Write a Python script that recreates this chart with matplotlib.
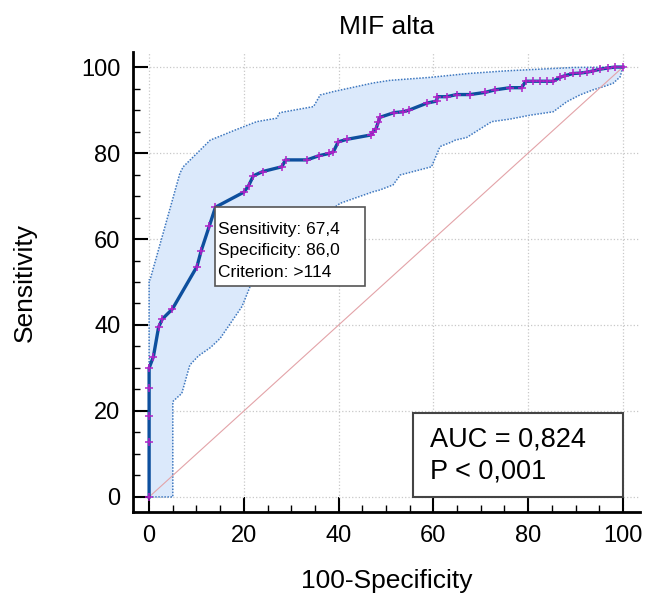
import numpy as np
import matplotlib.pyplot as plt
from matplotlib.patches import Rectangle
from matplotlib.ticker import MultipleLocator

plt.rcParams['font.family'] = ['Liberation Sans', 'DejaVu Sans']

# ROC curve (100-Specificity, Sensitivity)
roc_x = [0, 0, 0, 0, 0, 0.9, 2.0, 2.8, 4.9, 10.1, 11.0, 12.7, 14.0,
         20.0, 21.0, 22.0, 24.0, 28.0, 28.8, 33.3, 35.9, 38.0, 38.9, 39.9,
         41.8, 46.8, 47.3, 47.9, 48.4, 48.7, 51.7, 53.6, 54.9, 58.6, 60.7,
         60.8, 62.8, 64.9, 67.7, 70.9, 73.0, 76.2, 78.6, 79.5, 81.0, 82.6,
         84.0, 85.3, 86.7, 87.8, 89.5, 91.0, 92.4, 93.7, 95.2, 96.9, 98.3, 100]
roc_y = [0, 12.8, 18.8, 25.3, 30.0, 32.6, 39.5, 41.4, 43.7, 53.6, 57.3, 63.0, 67.4,
         70.9, 72.4, 74.7, 75.7, 76.8, 78.4, 78.4, 79.4, 79.9, 80.3, 82.6,
         83.2, 84.2, 85.0, 85.7, 87.3, 88.3, 89.4, 89.6, 90.0, 91.6, 92.1,
         93.1, 93.1, 93.6, 93.6, 94.1, 94.7, 95.2, 95.2, 96.7, 96.7, 96.7,
         96.7, 96.7, 97.6, 98.0, 98.5, 98.6, 98.8, 99.1, 99.5, 99.8, 100, 100]

# 95% confidence bounds
upper_x = [0, 0, 0.2, 6.5, 7.2, 12.9, 18.5, 22.7, 26.9, 27.6, 34.7, 36.1, 38.9,
           47.3, 50.8, 59.3, 67.4, 75.1, 89.5, 100]
upper_y = [0, 50.5, 50.5, 75.3, 76.8, 83.0, 85.5, 87.3, 88.1, 89.4, 90.8, 93.5, 94.3,
           96.3, 96.9, 97.6, 98.5, 99.1, 99.9, 100]
lower_x = [0, 5.0, 5.0, 6.9, 8.6, 10.4, 13.0, 15.0, 19.6, 21.3, 30.0, 35.0, 40.3,
           47.3, 48.7, 51.5, 53.0, 59.6, 61.4, 63.9, 64.6, 67.0, 72.3, 76.2,
           80.4, 85.3, 88.1, 90.9, 93.7, 95.8, 97.9, 99.4, 100]
lower_y = [0, 0, 22.2, 24.1, 30.7, 32.8, 34.8, 36.9, 44.3, 48.9, 58.0, 64.0, 68.3,
           71.0, 71.4, 72.6, 74.9, 76.8, 81.5, 82.6, 83.0, 83.6, 87.3, 87.9,
           88.8, 89.6, 91.9, 93.5, 94.7, 95.4, 96.2, 97.7, 100]

cut_x, cut_y = 14.0, 67.4
criterion_lines = ["Sensitivity: 67,4", "Specificity: 86,0", "Criterion: >114"]
stats_lines = ["AUC = 0,824", "P < 0,001"]

fig = plt.figure(figsize=(6.45, 5.94), dpi=100)
ax = fig.add_axes([133/645, 82/594, 507/645, 460/594])

poly_x = upper_x + lower_x[::-1]
poly_y = upper_y + lower_y[::-1]
ax.fill(poly_x, poly_y, color='#dbe9fb', zorder=1, lw=0)
ax.plot(upper_x, upper_y, color='#3f78bf', lw=1.1, ls=(0, (1, 1)), zorder=2)
ax.plot(lower_x, lower_y, color='#3f78bf', lw=1.1, ls=(0, (1, 1)), zorder=2)
ax.plot([0, 100], [0, 100], color='#e3a3a8', lw=0.8, zorder=2)
ax.plot(roc_x, roc_y, color='#0d4f9e', lw=2.4, zorder=3)
ax.plot(roc_x, roc_y, ls='none', marker='+', ms=6, mew=1.1,
        color='#b020c8', zorder=4)

ax.set_xlim(-3.4, 103.6)
ax.set_ylim(-3.5, 103.5)
ax.xaxis.set_major_locator(MultipleLocator(20))
ax.yaxis.set_major_locator(MultipleLocator(20))
ax.xaxis.set_minor_locator(MultipleLocator(5))
ax.yaxis.set_minor_locator(MultipleLocator(5))
ax.tick_params(which='major', direction='in', length=11, width=1.5,
               labelsize=17, pad=9)
ax.tick_params(which='minor', direction='in', length=5, width=1)
ax.grid(True, which='major', color='#c8c8c8', ls=':', lw=0.9, zorder=0)
ax.set_axisbelow(True)
for s in ['top', 'right']:
    ax.spines[s].set_visible(False)
for s in ['left', 'bottom']:
    ax.spines[s].set_linewidth(2)

ax.set_xlabel('100-Specificity', fontsize=19, labelpad=16)
ax.set_ylabel('Sensitivity', fontsize=19, labelpad=32)
ax.set_title('MIF alta', fontsize=19, pad=13)

# criterion box
ax.add_patch(Rectangle((cut_x, cut_y - 18.4), 31.6, 18.4, fc='white',
                       ec='#555555', lw=1.2, zorder=5))
for i, t in enumerate(criterion_lines):
    ax.text(cut_x + 0.5, cut_y - 5.1 - i * 5.0, t, fontsize=12.5,
            va='center', ha='left', zorder=6)

# AUC box
ax.add_patch(Rectangle((55.7, 0), 44.3, 19.5, fc='white',
                       ec='#444444', lw=1.5, zorder=5))
for i, t in enumerate(stats_lines):
    ax.text(59.3, 13.4 - i * 7.4, t, fontsize=19.5, va='center',
            ha='left', zorder=6)

fig.savefig('out.png', dpi=100)
